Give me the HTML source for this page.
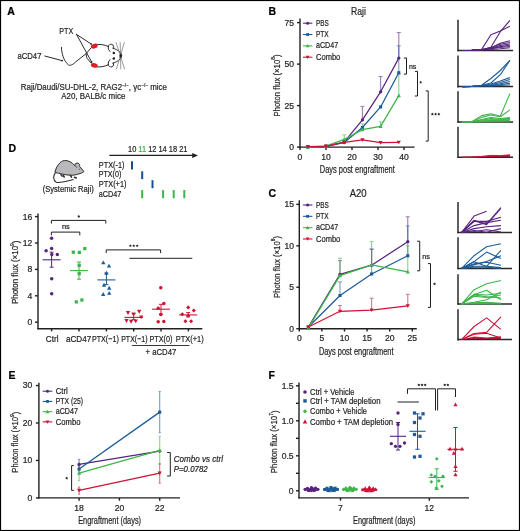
<!DOCTYPE html><html><head><meta charset="utf-8"><style>html,body{margin:0;padding:0;background:#fff;overflow:hidden;}svg{display:block;will-change:transform;font-family:"Liberation Sans",sans-serif;}</style></head><body><svg width="520" height="531" viewBox="0 0 520 531"><rect x="0.5" y="0.5" width="519" height="530" fill="none" stroke="#000" stroke-width="1.2"/><text x="7.3" y="15" font-size="10.5" text-anchor="start" fill="#000" stroke="#000" stroke-width="0.22" font-weight="bold" >A</text><text x="268.6" y="15.4" font-size="10.5" text-anchor="start" fill="#000" stroke="#000" stroke-width="0.22" font-weight="bold" >B</text><text x="268.6" y="197" font-size="10.5" text-anchor="start" fill="#000" stroke="#000" stroke-width="0.22" font-weight="bold" >C</text><text x="8.6" y="151.5" font-size="10.5" text-anchor="start" fill="#000" stroke="#000" stroke-width="0.22" font-weight="bold" >D</text><text x="8.6" y="378.8" font-size="10.5" text-anchor="start" fill="#000" stroke="#000" stroke-width="0.22" font-weight="bold" >E</text><text x="268.6" y="378.8" font-size="10.5" text-anchor="start" fill="#000" stroke="#000" stroke-width="0.22" font-weight="bold" >F</text><text x="59.2" y="33.9" font-size="9.43" text-anchor="start" fill="#231f20" stroke="#231f20" stroke-width="0.22" textLength="14" lengthAdjust="spacingAndGlyphs" >PTX</text><text x="17.5" y="58.6" font-size="9.27" text-anchor="start" fill="#231f20" stroke="#231f20" stroke-width="0.22" textLength="23.9" lengthAdjust="spacingAndGlyphs" >aCD47</text><text x="20.8" y="90" font-size="9.27" text-anchor="start" fill="#231f20" stroke="#231f20" stroke-width="0.22" textLength="146.1" lengthAdjust="spacingAndGlyphs" >Raji/Daudi/SU-DHL-2, RAG2<tspan font-size="5.5" dy="-3">−/−</tspan><tspan dy="3">, γc</tspan><tspan font-size="5.5" dy="-3">−/−</tspan><tspan dy="3"> mice</tspan></text><text x="61.2" y="98.8" font-size="9.27" text-anchor="start" fill="#231f20" stroke="#231f20" stroke-width="0.22" textLength="64.2" lengthAdjust="spacingAndGlyphs" >A20, BALB/c mice</text><g fill="none" stroke="#231f20" stroke-width="0.95" stroke-linecap="round"><line x1="76.5" y1="34.4" x2="91.2" y2="44.0"/><line x1="76.5" y1="34.4" x2="91.6" y2="61.9"/><line x1="44.8" y1="56" x2="62.0" y2="60.6"/><path d="M61.4 47.3 C61.6 53 63.5 61 68.6 65 C71 66 73.5 64 75.7 61.9 L86.3 53.5"/><path d="M91.2 47.7 L86.3 53.5 C86 55.5 86.5 57 87.2 58.4 L91.2 63.2"/><path d="M97.5 44.5 C101 44.2 105 45 108 46.3"/><path d="M97.5 66.9 C101 67.2 105 66.2 108 64.9"/><path d="M108.2 46.6 A2.8 2.8 0 1 1 113.4 48.4"/><path d="M108.2 46.6 Q107.6 49.6 109.9 51.5"/><path d="M108.2 64.6 A2.8 2.8 0 1 0 113.4 62.8"/><path d="M108.2 64.6 Q107.6 61.6 109.9 59.7"/><path d="M112.8 48.1 C115.5 49 118.5 50.5 119.8 52 C121.2 53.5 121.7 54.8 121.7 55.6 C121.7 56.5 121.2 58 119.8 59.4 C118.5 60.8 115.5 62.3 112.8 63.3"/></g><g stroke="#707070" stroke-width="0.7"><line x1="116.0" y1="42.2" x2="124.7" y2="69.4"/><line x1="124.4" y1="42.2" x2="116.3" y2="69.4"/><line x1="120.2" y1="42.2" x2="120.8" y2="69.4"/></g><circle cx="113.8" cy="52.9" r="1.25" fill="#231f20"/><circle cx="113.8" cy="58.6" r="1.25" fill="#231f20"/><ellipse cx="120.6" cy="55.8" rx="1.2" ry="1.9" fill="#231f20"/><ellipse cx="94.3" cy="46.1" rx="3.5" ry="2.25" transform="rotate(-20 94.3 46.1)" fill="#e31b23"/><ellipse cx="94.3" cy="65.4" rx="3.5" ry="2.25" transform="rotate(15 94.3 65.4)" fill="#e31b23"/><circle cx="91.2" cy="44.0" r="0.85" fill="#231f20"/><circle cx="91.6" cy="61.9" r="0.85" fill="#231f20"/><circle cx="62.0" cy="60.6" r="0.85" fill="#231f20"/><line x1="300" y1="18.6" x2="300" y2="147.7" stroke="#231f20" stroke-width="1.4"/><line x1="299.4" y1="147.1" x2="414.6" y2="147.1" stroke="#231f20" stroke-width="1.4"/><line x1="297" y1="147.1" x2="300" y2="147.1" stroke="#231f20" stroke-width="1.4"/><text x="294" y="150" font-size="8.57" text-anchor="end" fill="#231f20" stroke="#231f20" stroke-width="0.22">0</text><line x1="297" y1="105.6" x2="300" y2="105.6" stroke="#231f20" stroke-width="1.4"/><text x="294" y="108.5" font-size="8.57" text-anchor="end" fill="#231f20" stroke="#231f20" stroke-width="0.22">25</text><line x1="297" y1="64.1" x2="300" y2="64.1" stroke="#231f20" stroke-width="1.4"/><text x="294" y="67" font-size="8.57" text-anchor="end" fill="#231f20" stroke="#231f20" stroke-width="0.22">50</text><line x1="297" y1="22.6" x2="300" y2="22.6" stroke="#231f20" stroke-width="1.4"/><text x="294" y="25.5" font-size="8.57" text-anchor="end" fill="#231f20" stroke="#231f20" stroke-width="0.22">75</text><line x1="300" y1="147.1" x2="300" y2="150" stroke="#231f20" stroke-width="1.4"/><text x="300" y="159.8" font-size="8.57" text-anchor="middle" fill="#231f20" stroke="#231f20" stroke-width="0.22">0</text><line x1="326" y1="147.1" x2="326" y2="150" stroke="#231f20" stroke-width="1.4"/><text x="326" y="159.8" font-size="8.57" text-anchor="middle" fill="#231f20" stroke="#231f20" stroke-width="0.22">10</text><line x1="352" y1="147.1" x2="352" y2="150" stroke="#231f20" stroke-width="1.4"/><text x="352" y="159.8" font-size="8.57" text-anchor="middle" fill="#231f20" stroke="#231f20" stroke-width="0.22">20</text><line x1="378" y1="147.1" x2="378" y2="150" stroke="#231f20" stroke-width="1.4"/><text x="378" y="159.8" font-size="8.57" text-anchor="middle" fill="#231f20" stroke="#231f20" stroke-width="0.22">30</text><line x1="404" y1="147.1" x2="404" y2="150" stroke="#231f20" stroke-width="1.4"/><text x="404" y="159.8" font-size="8.57" text-anchor="middle" fill="#231f20" stroke="#231f20" stroke-width="0.22">40</text><text x="319.8" y="172.6" font-size="10.07" text-anchor="start" fill="#231f20" stroke="#231f20" stroke-width="0.22" textLength="75" lengthAdjust="spacingAndGlyphs" >Days post engraftment</text><text x="276" y="85.5" font-size="9.59" text-anchor="middle" fill="#231f20" stroke="#231f20" stroke-width="0.22" textLength="62" lengthAdjust="spacingAndGlyphs" transform="rotate(-90 276 85.5)" dominant-baseline="central">Photon flux (×10<tspan font-size="6" dy="-2.8">8</tspan><tspan dy="2.8">)</tspan></text><text x="351" y="14.9" font-size="10.23" text-anchor="start" fill="#231f20" stroke="#231f20" stroke-width="0.22" textLength="14.8" lengthAdjust="spacingAndGlyphs" >Raji</text><g opacity="0.6"><line x1="362.4" y1="119.88" x2="362.4" y2="106.43" stroke="#57257f" stroke-width="1.1"/><line x1="360.4" y1="106.43" x2="364.4" y2="106.43" stroke="#57257f" stroke-width="1"/></g><g opacity="0.6"><line x1="380.6" y1="91.82" x2="380.6" y2="76.55" stroke="#57257f" stroke-width="1.1"/><line x1="378.6" y1="76.55" x2="382.6" y2="76.55" stroke="#57257f" stroke-width="1"/></g><g opacity="0.6"><line x1="398.8" y1="58.12" x2="398.8" y2="32.56" stroke="#57257f" stroke-width="1.1"/><line x1="396.8" y1="32.56" x2="400.8" y2="32.56" stroke="#57257f" stroke-width="1"/></g><g opacity="0.6"><line x1="398.8" y1="72.73" x2="398.8" y2="45.84" stroke="#1c5b98" stroke-width="1.1"/><line x1="396.8" y1="45.84" x2="400.8" y2="45.84" stroke="#1c5b98" stroke-width="1"/></g><g opacity="0.6"><line x1="344.2" y1="139.46" x2="344.2" y2="134.82" stroke="#3db549" stroke-width="1.1"/><line x1="342.2" y1="134.82" x2="346.2" y2="134.82" stroke="#3db549" stroke-width="1"/></g><g opacity="0.6"><line x1="362.4" y1="129.67" x2="362.4" y2="123.86" stroke="#3db549" stroke-width="1.1"/><line x1="360.4" y1="123.86" x2="364.4" y2="123.86" stroke="#3db549" stroke-width="1"/></g><g opacity="0.6"><line x1="380.6" y1="126.35" x2="380.6" y2="121.87" stroke="#3db549" stroke-width="1.1"/><line x1="378.6" y1="121.87" x2="382.6" y2="121.87" stroke="#3db549" stroke-width="1"/></g><g opacity="0.6"><line x1="398.8" y1="95.64" x2="398.8" y2="74.06" stroke="#3db549" stroke-width="1.1"/><line x1="396.8" y1="74.06" x2="400.8" y2="74.06" stroke="#3db549" stroke-width="1"/></g><polyline points="307.8,146.77 326,146.27 344.2,142.12 362.4,119.88 380.6,91.82 398.8,58.12" fill="none" stroke="#57257f" stroke-width="1.25" stroke-linejoin="round"/><circle cx="307.8" cy="146.77" r="1.67" fill="#57257f"/><circle cx="326" cy="146.27" r="1.67" fill="#57257f"/><circle cx="344.2" cy="142.12" r="1.67" fill="#57257f"/><circle cx="362.4" cy="119.88" r="1.67" fill="#57257f"/><circle cx="380.6" cy="91.82" r="1.67" fill="#57257f"/><circle cx="398.8" cy="58.12" r="1.67" fill="#57257f"/><polyline points="307.8,146.77 326,146.44 344.2,142.45 362.4,127.51 380.6,106.93 398.8,72.73" fill="none" stroke="#1c5b98" stroke-width="1.25" stroke-linejoin="round"/><rect x="306.25" y="145.22" width="3.1" height="3.1" fill="#1c5b98"/><rect x="324.45" y="144.88" width="3.1" height="3.1" fill="#1c5b98"/><rect x="342.65" y="140.9" width="3.1" height="3.1" fill="#1c5b98"/><rect x="360.85" y="125.96" width="3.1" height="3.1" fill="#1c5b98"/><rect x="379.05" y="105.38" width="3.1" height="3.1" fill="#1c5b98"/><rect x="397.25" y="71.18" width="3.1" height="3.1" fill="#1c5b98"/><polyline points="307.8,147.1 326,146.1 344.2,139.46 362.4,129.67 380.6,126.35 398.8,95.64" fill="none" stroke="#3db549" stroke-width="1.25" stroke-linejoin="round"/><path d="M307.8 145.03L309.87 148.76L305.73 148.76Z" fill="#3db549"/><path d="M326 144.03L328.07 147.76L323.93 147.76Z" fill="#3db549"/><path d="M344.2 137.39L346.27 141.12L342.13 141.12Z" fill="#3db549"/><path d="M362.4 127.6L364.47 131.33L360.33 131.33Z" fill="#3db549"/><path d="M380.6 124.28L382.67 128.01L378.53 128.01Z" fill="#3db549"/><path d="M398.8 93.57L400.87 97.3L396.73 97.3Z" fill="#3db549"/><polyline points="307.8,146.6 326,146.1 344.2,142.45 362.4,139.8 380.6,142.62 398.8,142.29" fill="none" stroke="#cf1236" stroke-width="1.25" stroke-linejoin="round"/><path d="M307.8 148.67L309.87 144.95L305.73 144.95Z" fill="#cf1236"/><path d="M326 148.17L328.07 144.45L323.93 144.45Z" fill="#cf1236"/><path d="M344.2 144.52L346.27 140.8L342.13 140.8Z" fill="#cf1236"/><path d="M362.4 141.87L364.47 138.14L360.33 138.14Z" fill="#cf1236"/><path d="M380.6 144.69L382.67 140.96L378.53 140.96Z" fill="#cf1236"/><path d="M398.8 144.36L400.87 140.63L396.73 140.63Z" fill="#cf1236"/><line x1="303" y1="23.2" x2="312.4" y2="23.2" stroke="#57257f" stroke-width="1.1"/><circle cx="307.6" cy="23.2" r="1.5" fill="#57257f"/><text x="316" y="25.8" font-size="8.63" text-anchor="start" fill="#231f20" stroke="#231f20" stroke-width="0.22" textLength="12.75" lengthAdjust="spacingAndGlyphs" >PBS</text><line x1="303" y1="34.53" x2="312.4" y2="34.53" stroke="#1c5b98" stroke-width="1.1"/><rect x="306.2" y="33.13" width="2.79" height="2.79" fill="#1c5b98"/><text x="316" y="37.13" font-size="8.63" text-anchor="start" fill="#231f20" stroke="#231f20" stroke-width="0.22" textLength="12.75" lengthAdjust="spacingAndGlyphs" >PTX</text><line x1="303" y1="45.86" x2="312.4" y2="45.86" stroke="#3db549" stroke-width="1.1"/><path d="M307.6 44L309.46 47.35L305.74 47.35Z" fill="#3db549"/><text x="316" y="48.46" font-size="8.63" text-anchor="start" fill="#231f20" stroke="#231f20" stroke-width="0.22" textLength="22.1" lengthAdjust="spacingAndGlyphs" >aCD47</text><line x1="303" y1="57.19" x2="312.4" y2="57.19" stroke="#cf1236" stroke-width="1.1"/><path d="M307.6 59.05L309.46 55.7L305.74 55.7Z" fill="#cf1236"/><text x="316" y="59.79" font-size="8.63" text-anchor="start" fill="#231f20" stroke="#231f20" stroke-width="0.22" textLength="24.3" lengthAdjust="spacingAndGlyphs" >Combo</text><path d="M403.9 58H406.5V74.1H403.9" fill="none" stroke="#231f20" stroke-width="1"/><text x="408.9" y="68.6" font-size="6.9" text-anchor="start" fill="#231f20" stroke="#231f20" stroke-width="0.22" textLength="7.4" lengthAdjust="spacingAndGlyphs" >ns</text><path d="M414.9 71.4H417.5V96H414.9" fill="none" stroke="#231f20" stroke-width="1"/><path d="M420.7 80.7L421.17 81.65L422.22 81.81L421.46 82.55L421.64 83.59L420.7 83.1L419.76 83.59L419.94 82.55L419.18 81.81L420.23 81.65Z" fill="#231f20"/><path d="M425.6 90.9H428.2V141.1H425.6" fill="none" stroke="#231f20" stroke-width="1"/><path d="M432.35 112.6L432.82 113.55L433.87 113.71L433.11 114.45L433.29 115.49L432.35 115L431.41 115.49L431.59 114.45L430.83 113.71L431.88 113.55Z" fill="#231f20"/><path d="M435.6 112.6L436.07 113.55L437.12 113.71L436.36 114.45L436.54 115.49L435.6 115L434.66 115.49L434.84 114.45L434.08 113.71L435.13 113.55Z" fill="#231f20"/><path d="M438.85 112.6L439.32 113.55L440.37 113.71L439.61 114.45L439.79 115.49L438.85 115L437.91 115.49L438.09 114.45L437.33 113.71L438.38 113.55Z" fill="#231f20"/><line x1="299.3" y1="200.2" x2="299.3" y2="329.3" stroke="#231f20" stroke-width="1.4"/><line x1="298.7" y1="328.7" x2="416.8" y2="328.7" stroke="#231f20" stroke-width="1.4"/><line x1="296.3" y1="328.7" x2="299.3" y2="328.7" stroke="#231f20" stroke-width="1.4"/><text x="294" y="331.6" font-size="8.57" text-anchor="end" fill="#231f20" stroke="#231f20" stroke-width="0.22">0</text><line x1="296.3" y1="287.25" x2="299.3" y2="287.25" stroke="#231f20" stroke-width="1.4"/><text x="294" y="290.15" font-size="8.57" text-anchor="end" fill="#231f20" stroke="#231f20" stroke-width="0.22">5</text><line x1="296.3" y1="245.8" x2="299.3" y2="245.8" stroke="#231f20" stroke-width="1.4"/><text x="294" y="248.7" font-size="8.57" text-anchor="end" fill="#231f20" stroke="#231f20" stroke-width="0.22">10</text><line x1="296.3" y1="204.35" x2="299.3" y2="204.35" stroke="#231f20" stroke-width="1.4"/><text x="294" y="207.25" font-size="8.57" text-anchor="end" fill="#231f20" stroke="#231f20" stroke-width="0.22">15</text><line x1="299.3" y1="328.7" x2="299.3" y2="331.6" stroke="#231f20" stroke-width="1.4"/><text x="299.3" y="341.3" font-size="8.57" text-anchor="middle" fill="#231f20" stroke="#231f20" stroke-width="0.22">0</text><line x1="321.9" y1="328.7" x2="321.9" y2="331.6" stroke="#231f20" stroke-width="1.4"/><text x="321.9" y="341.3" font-size="8.57" text-anchor="middle" fill="#231f20" stroke="#231f20" stroke-width="0.22">5</text><line x1="344.5" y1="328.7" x2="344.5" y2="331.6" stroke="#231f20" stroke-width="1.4"/><text x="344.5" y="341.3" font-size="8.57" text-anchor="middle" fill="#231f20" stroke="#231f20" stroke-width="0.22">10</text><line x1="367.1" y1="328.7" x2="367.1" y2="331.6" stroke="#231f20" stroke-width="1.4"/><text x="367.1" y="341.3" font-size="8.57" text-anchor="middle" fill="#231f20" stroke="#231f20" stroke-width="0.22">15</text><line x1="389.7" y1="328.7" x2="389.7" y2="331.6" stroke="#231f20" stroke-width="1.4"/><text x="389.7" y="341.3" font-size="8.57" text-anchor="middle" fill="#231f20" stroke="#231f20" stroke-width="0.22">20</text><line x1="412.3" y1="328.7" x2="412.3" y2="331.6" stroke="#231f20" stroke-width="1.4"/><text x="412.3" y="341.3" font-size="8.57" text-anchor="middle" fill="#231f20" stroke="#231f20" stroke-width="0.22">25</text><text x="318.9" y="355" font-size="10.07" text-anchor="start" fill="#231f20" stroke="#231f20" stroke-width="0.22" textLength="74.6" lengthAdjust="spacingAndGlyphs" >Days post engraftment</text><text x="276" y="267" font-size="9.59" text-anchor="middle" fill="#231f20" stroke="#231f20" stroke-width="0.22" textLength="62" lengthAdjust="spacingAndGlyphs" transform="rotate(-90 276 267)" dominant-baseline="central">Photon flux (×10<tspan font-size="6" dy="-2.8">8</tspan><tspan dy="2.8">)</tspan></text><text x="349.7" y="196.8" font-size="10.55" text-anchor="start" fill="#231f20" stroke="#231f20" stroke-width="0.22" textLength="17" lengthAdjust="spacingAndGlyphs" >A20</text><g opacity="0.6"><line x1="339.98" y1="274.4" x2="339.98" y2="260.72" stroke="#57257f" stroke-width="1.1"/><line x1="337.98" y1="260.72" x2="341.98" y2="260.72" stroke="#57257f" stroke-width="1"/></g><g opacity="0.6"><line x1="371.62" y1="265.2" x2="371.62" y2="249.12" stroke="#57257f" stroke-width="1.1"/><line x1="369.62" y1="249.12" x2="373.62" y2="249.12" stroke="#57257f" stroke-width="1"/></g><g opacity="0.6"><line x1="407.78" y1="241.66" x2="407.78" y2="216.78" stroke="#57257f" stroke-width="1.1"/><line x1="405.78" y1="216.78" x2="409.78" y2="216.78" stroke="#57257f" stroke-width="1"/></g><g opacity="0.6"><line x1="339.98" y1="295.54" x2="339.98" y2="281.86" stroke="#1c5b98" stroke-width="1.1"/><line x1="337.98" y1="281.86" x2="341.98" y2="281.86" stroke="#1c5b98" stroke-width="1"/></g><g opacity="0.6"><line x1="371.62" y1="273.99" x2="371.62" y2="249.12" stroke="#1c5b98" stroke-width="1.1"/><line x1="369.62" y1="249.12" x2="373.62" y2="249.12" stroke="#1c5b98" stroke-width="1"/></g><g opacity="0.6"><line x1="407.78" y1="255.75" x2="407.78" y2="225.9" stroke="#1c5b98" stroke-width="1.1"/><line x1="405.78" y1="225.9" x2="409.78" y2="225.9" stroke="#1c5b98" stroke-width="1"/></g><g opacity="0.6"><line x1="339.98" y1="275.64" x2="339.98" y2="258.24" stroke="#3db549" stroke-width="1.1"/><line x1="337.98" y1="258.24" x2="341.98" y2="258.24" stroke="#3db549" stroke-width="1"/></g><g opacity="0.6"><line x1="371.62" y1="264.87" x2="371.62" y2="241.66" stroke="#3db549" stroke-width="1.1"/><line x1="369.62" y1="241.66" x2="373.62" y2="241.66" stroke="#3db549" stroke-width="1"/></g><g opacity="0.6"><line x1="407.78" y1="271.91" x2="407.78" y2="245.8" stroke="#3db549" stroke-width="1.1"/><line x1="405.78" y1="245.8" x2="409.78" y2="245.8" stroke="#3db549" stroke-width="1"/></g><g opacity="0.6"><line x1="339.98" y1="311.29" x2="339.98" y2="305.49" stroke="#cf1236" stroke-width="1.1"/><line x1="337.98" y1="305.49" x2="341.98" y2="305.49" stroke="#cf1236" stroke-width="1"/></g><g opacity="0.6"><line x1="371.62" y1="310.05" x2="371.62" y2="298.28" stroke="#cf1236" stroke-width="1.1"/><line x1="369.62" y1="298.28" x2="373.62" y2="298.28" stroke="#cf1236" stroke-width="1"/></g><g opacity="0.6"><line x1="407.78" y1="305.82" x2="407.78" y2="294.3" stroke="#cf1236" stroke-width="1.1"/><line x1="405.78" y1="294.3" x2="409.78" y2="294.3" stroke="#cf1236" stroke-width="1"/></g><polyline points="308.34,327.04 339.98,274.4 371.62,265.2 407.78,241.66" fill="none" stroke="#57257f" stroke-width="1.25" stroke-linejoin="round"/><circle cx="308.34" cy="327.04" r="1.67" fill="#57257f"/><circle cx="339.98" cy="274.4" r="1.67" fill="#57257f"/><circle cx="371.62" cy="265.2" r="1.67" fill="#57257f"/><circle cx="407.78" cy="241.66" r="1.67" fill="#57257f"/><polyline points="308.34,327.04 339.98,295.54 371.62,273.99 407.78,255.75" fill="none" stroke="#1c5b98" stroke-width="1.25" stroke-linejoin="round"/><rect x="306.79" y="325.49" width="3.1" height="3.1" fill="#1c5b98"/><rect x="338.43" y="293.99" width="3.1" height="3.1" fill="#1c5b98"/><rect x="370.07" y="272.43" width="3.1" height="3.1" fill="#1c5b98"/><rect x="406.23" y="254.2" width="3.1" height="3.1" fill="#1c5b98"/><polyline points="308.34,327.87 339.98,275.64 371.62,264.87 407.78,271.91" fill="none" stroke="#3db549" stroke-width="1.25" stroke-linejoin="round"/><path d="M308.34 325.8L310.41 329.53L306.27 329.53Z" fill="#3db549"/><path d="M339.98 273.57L342.05 277.3L337.91 277.3Z" fill="#3db549"/><path d="M371.62 262.8L373.69 266.52L369.55 266.52Z" fill="#3db549"/><path d="M407.78 269.84L409.85 273.57L405.71 273.57Z" fill="#3db549"/><polyline points="308.34,327.04 339.98,311.29 371.62,310.05 407.78,305.82" fill="none" stroke="#cf1236" stroke-width="1.25" stroke-linejoin="round"/><path d="M308.34 329.11L310.41 325.39L306.27 325.39Z" fill="#cf1236"/><path d="M339.98 313.36L342.05 309.63L337.91 309.63Z" fill="#cf1236"/><path d="M371.62 312.12L373.69 308.39L369.55 308.39Z" fill="#cf1236"/><path d="M407.78 307.89L409.85 304.16L405.71 304.16Z" fill="#cf1236"/><line x1="303" y1="205" x2="312.4" y2="205" stroke="#57257f" stroke-width="1.1"/><circle cx="307.6" cy="205" r="1.5" fill="#57257f"/><text x="316" y="207.6" font-size="8.63" text-anchor="start" fill="#231f20" stroke="#231f20" stroke-width="0.22" textLength="12.75" lengthAdjust="spacingAndGlyphs" >PBS</text><line x1="303" y1="216.33" x2="312.4" y2="216.33" stroke="#1c5b98" stroke-width="1.1"/><rect x="306.2" y="214.93" width="2.79" height="2.79" fill="#1c5b98"/><text x="316" y="218.93" font-size="8.63" text-anchor="start" fill="#231f20" stroke="#231f20" stroke-width="0.22" textLength="12.75" lengthAdjust="spacingAndGlyphs" >PTX</text><line x1="303" y1="227.66" x2="312.4" y2="227.66" stroke="#3db549" stroke-width="1.1"/><path d="M307.6 225.8L309.46 229.15L305.74 229.15Z" fill="#3db549"/><text x="316" y="230.26" font-size="8.63" text-anchor="start" fill="#231f20" stroke="#231f20" stroke-width="0.22" textLength="22.1" lengthAdjust="spacingAndGlyphs" >aCD47</text><line x1="303" y1="238.99" x2="312.4" y2="238.99" stroke="#cf1236" stroke-width="1.1"/><path d="M307.6 240.85L309.46 237.5L305.74 237.5Z" fill="#cf1236"/><text x="316" y="241.59" font-size="8.63" text-anchor="start" fill="#231f20" stroke="#231f20" stroke-width="0.22" textLength="24.3" lengthAdjust="spacingAndGlyphs" >Combo</text><path d="M417.1 241.2H419.7V270.8H417.1" fill="none" stroke="#231f20" stroke-width="1"/><text x="422.3" y="258.6" font-size="6.9" text-anchor="start" fill="#231f20" stroke="#231f20" stroke-width="0.22" textLength="7.7" lengthAdjust="spacingAndGlyphs" >ns</text><path d="M427.9 263.6H430.5V307.4H427.9" fill="none" stroke="#231f20" stroke-width="1"/><path d="M434.5 282.3L434.97 283.25L436.02 283.41L435.26 284.15L435.44 285.19L434.5 284.7L433.56 285.19L433.74 284.15L432.98 283.41L434.03 283.25Z" fill="#231f20"/><text x="128" y="151.5" font-size="8.47" text-anchor="start" fill="#231f20" stroke="#231f20" stroke-width="0.22" textLength="59.4" lengthAdjust="spacingAndGlyphs" >10 <tspan fill="#3db549" stroke="#3db549">11</tspan> 12 14 18 21</text><line x1="109.4" y1="155.4" x2="193.5" y2="155.4" stroke="#231f20" stroke-width="1.2"/><path d="M192.2 152.9L198 155.4L192.2 157.9Z" fill="#231f20"/><text x="98.8" y="168.2" font-size="8.95" text-anchor="start" fill="#231f20" stroke="#231f20" stroke-width="0.22" textLength="25.6" lengthAdjust="spacingAndGlyphs" >PTX(-1)</text><text x="98.8" y="177.3" font-size="8.95" text-anchor="start" fill="#231f20" stroke="#231f20" stroke-width="0.22" textLength="22.5" lengthAdjust="spacingAndGlyphs" >PTX(0)</text><text x="98.8" y="187.2" font-size="8.95" text-anchor="start" fill="#231f20" stroke="#231f20" stroke-width="0.22" textLength="27.7" lengthAdjust="spacingAndGlyphs" >PTX(+1)</text><text x="98.8" y="196.8" font-size="8.95" text-anchor="start" fill="#231f20" stroke="#231f20" stroke-width="0.22" textLength="22.5" lengthAdjust="spacingAndGlyphs" >aCD47</text><line x1="132" y1="161.2" x2="132" y2="169.6" stroke="#1a4f8e" stroke-width="2.0"/><line x1="142.2" y1="171.3" x2="142.2" y2="179.1" stroke="#1a4f8e" stroke-width="2.0"/><line x1="152.5" y1="180.2" x2="152.5" y2="188.2" stroke="#1a4f8e" stroke-width="2.0"/><line x1="142.2" y1="190.1" x2="142.2" y2="198.2" stroke="#3db549" stroke-width="2.0"/><line x1="163.1" y1="190.1" x2="163.1" y2="198.2" stroke="#3db549" stroke-width="2.0"/><line x1="173.7" y1="190.1" x2="173.7" y2="198.2" stroke="#3db549" stroke-width="2.0"/><line x1="184.3" y1="190.1" x2="184.3" y2="198.2" stroke="#3db549" stroke-width="2.0"/><path d="M54.9 172.3 C56.5 166 60 161 64.5 160.5 C68.5 160.2 72 162.5 74.6 165.4 C74.8 163.6 76.6 162.6 78.2 163.2 C79.6 163.8 79.9 165.3 79.6 166.6 C81 168.2 82.8 170 83.9 171.5 C82.5 172.8 80.5 173.6 78.8 173.9 C76 174.9 73.5 175.3 71 175.2 C67 175.1 63 174.4 60.3 173.5 C58 173.2 56 172.8 54.9 172.3Z" fill="#b8b8bd" stroke="#2b2b2b" stroke-width="1.0"/><path d="M74.4 165.2 C75.5 165.6 76.5 166.6 77.0 167.8" fill="none" stroke="#2b2b2b" stroke-width="0.7"/><path d="M55.4 172.8 C53.2 175.5 52.6 180 56.3 182.2 C59.5 183.6 65 181.6 73.5 179.6" fill="none" stroke="#2b2b2b" stroke-width="1.05"/><g stroke="#2b2b2b" stroke-width="1.5" stroke-linecap="round"><line x1="60.9" y1="174.6" x2="62.0" y2="176.2"/><line x1="63.3" y1="175.5" x2="64.2" y2="177.0"/><line x1="70.5" y1="175.6" x2="71.5" y2="177.1"/><line x1="74.5" y1="177.2" x2="76.3" y2="178.0"/></g><circle cx="79.6" cy="169.3" r="0.5" fill="#333"/><text x="42.7" y="191.7" font-size="8.95" text-anchor="start" fill="#231f20" stroke="#231f20" stroke-width="0.22" textLength="51" lengthAdjust="spacingAndGlyphs" >(Systemic Raji)</text><line x1="38" y1="213.6" x2="38" y2="329.3" stroke="#231f20" stroke-width="1.4"/><line x1="37.4" y1="328.7" x2="202.3" y2="328.7" stroke="#231f20" stroke-width="1.4"/><line x1="35" y1="322.2" x2="38" y2="322.2" stroke="#231f20" stroke-width="1.4"/><text x="32.2" y="325.1" font-size="8.57" text-anchor="end" fill="#231f20" stroke="#231f20" stroke-width="0.22">0</text><line x1="35" y1="295.8" x2="38" y2="295.8" stroke="#231f20" stroke-width="1.4"/><text x="32.2" y="298.7" font-size="8.57" text-anchor="end" fill="#231f20" stroke="#231f20" stroke-width="0.22">4</text><line x1="35" y1="269.4" x2="38" y2="269.4" stroke="#231f20" stroke-width="1.4"/><text x="32.2" y="272.3" font-size="8.57" text-anchor="end" fill="#231f20" stroke="#231f20" stroke-width="0.22">8</text><line x1="35" y1="243" x2="38" y2="243" stroke="#231f20" stroke-width="1.4"/><text x="32.2" y="245.9" font-size="8.57" text-anchor="end" fill="#231f20" stroke="#231f20" stroke-width="0.22">12</text><line x1="35" y1="216.6" x2="38" y2="216.6" stroke="#231f20" stroke-width="1.4"/><text x="32.2" y="219.5" font-size="8.57" text-anchor="end" fill="#231f20" stroke="#231f20" stroke-width="0.22">16</text><line x1="51.6" y1="328.7" x2="51.6" y2="331.4" stroke="#231f20" stroke-width="1.4"/><line x1="79" y1="328.7" x2="79" y2="331.4" stroke="#231f20" stroke-width="1.4"/><line x1="106.4" y1="328.7" x2="106.4" y2="331.4" stroke="#231f20" stroke-width="1.4"/><line x1="133.7" y1="328.7" x2="133.7" y2="331.4" stroke="#231f20" stroke-width="1.4"/><line x1="161" y1="328.7" x2="161" y2="331.4" stroke="#231f20" stroke-width="1.4"/><line x1="188.4" y1="328.7" x2="188.4" y2="331.4" stroke="#231f20" stroke-width="1.4"/><text x="15" y="272.3" font-size="9.59" text-anchor="middle" fill="#231f20" stroke="#231f20" stroke-width="0.22" textLength="63.6" lengthAdjust="spacingAndGlyphs" transform="rotate(-90 15 272.3)" dominant-baseline="central">Photon flux (×10<tspan font-size="6" dy="-2.8">9</tspan><tspan dy="2.8">)</tspan></text><text x="45.8" y="341.5" font-size="9.27" text-anchor="start" fill="#231f20" stroke="#231f20" stroke-width="0.22" textLength="12.7" lengthAdjust="spacingAndGlyphs" >Ctrl</text><text x="66" y="341.5" font-size="9.27" text-anchor="start" fill="#231f20" stroke="#231f20" stroke-width="0.22" textLength="25.2" lengthAdjust="spacingAndGlyphs" >aCD47</text><text x="91.9" y="341.5" font-size="9.27" text-anchor="start" fill="#231f20" stroke="#231f20" stroke-width="0.22" textLength="26.9" lengthAdjust="spacingAndGlyphs" >PTX(−1)</text><text x="121.2" y="341.5" font-size="9.27" text-anchor="start" fill="#231f20" stroke="#231f20" stroke-width="0.22" textLength="26.3" lengthAdjust="spacingAndGlyphs" >PTX(−1)</text><text x="149.4" y="341.5" font-size="9.27" text-anchor="start" fill="#231f20" stroke="#231f20" stroke-width="0.22" textLength="23.1" lengthAdjust="spacingAndGlyphs" >PTX(0)</text><text x="175.8" y="341.5" font-size="9.27" text-anchor="start" fill="#231f20" stroke="#231f20" stroke-width="0.22" textLength="27.9" lengthAdjust="spacingAndGlyphs" >PTX(+1)</text><line x1="132.1" y1="345.5" x2="189.4" y2="345.5" stroke="#231f20" stroke-width="0.9"/><text x="145.6" y="354.6" font-size="9.27" text-anchor="start" fill="#231f20" stroke="#231f20" stroke-width="0.22" textLength="30.7" lengthAdjust="spacingAndGlyphs" >+ aCD47</text><circle cx="51.6" cy="238.2" r="1.75" fill="#57257f"/><circle cx="46.1" cy="250.7" r="1.75" fill="#57257f"/><circle cx="51.6" cy="248.6" r="1.75" fill="#57257f"/><circle cx="51.8" cy="254.6" r="1.75" fill="#57257f"/><circle cx="57.3" cy="254.6" r="1.75" fill="#57257f"/><circle cx="51.7" cy="278.7" r="1.75" fill="#57257f"/><circle cx="51.7" cy="293.7" r="1.75" fill="#57257f"/><line x1="42.6" y1="259.8" x2="60.6" y2="259.8" stroke="#57257f" stroke-width="1.1"/><line x1="51.6" y1="252.2" x2="51.6" y2="267.2" stroke="#57257f" stroke-width="1.0"/><line x1="49.6" y1="252.2" x2="53.6" y2="252.2" stroke="#57257f" stroke-width="1"/><line x1="49.6" y1="267.2" x2="53.6" y2="267.2" stroke="#57257f" stroke-width="1"/><rect x="71.67" y="250.57" width="3.26" height="3.26" fill="#3db549"/><rect x="77.67" y="250.77" width="3.26" height="3.26" fill="#3db549"/><rect x="83.17" y="246.97" width="3.26" height="3.26" fill="#3db549"/><rect x="77.57" y="263.77" width="3.26" height="3.26" fill="#3db549"/><rect x="77.57" y="271.97" width="3.26" height="3.26" fill="#3db549"/><rect x="74.67" y="300.27" width="3.26" height="3.26" fill="#3db549"/><rect x="80.27" y="298.37" width="3.26" height="3.26" fill="#3db549"/><line x1="70" y1="270.6" x2="88" y2="270.6" stroke="#3db549" stroke-width="1.1"/><line x1="79" y1="262.1" x2="79" y2="279.2" stroke="#3db549" stroke-width="1.0"/><line x1="77" y1="262.1" x2="81" y2="262.1" stroke="#3db549" stroke-width="1"/><line x1="77" y1="279.2" x2="81" y2="279.2" stroke="#3db549" stroke-width="1"/><path d="M103.3 260.43L105.47 264.34L101.13 264.34Z" fill="#1c5b98"/><path d="M109 263.63L111.17 267.54L106.83 267.54Z" fill="#1c5b98"/><path d="M106.4 270.83L108.57 274.74L104.23 274.74Z" fill="#1c5b98"/><path d="M104 282.83L106.17 286.74L101.83 286.74Z" fill="#1c5b98"/><path d="M109.2 285.73L111.37 289.64L107.03 289.64Z" fill="#1c5b98"/><path d="M103.2 292.03L105.37 295.94L101.03 295.94Z" fill="#1c5b98"/><path d="M109.2 290.93L111.37 294.84L107.03 294.84Z" fill="#1c5b98"/><line x1="97.4" y1="279.9" x2="115.4" y2="279.9" stroke="#1c5b98" stroke-width="1.1"/><line x1="106.4" y1="273" x2="106.4" y2="284.6" stroke="#1c5b98" stroke-width="1.0"/><line x1="104.4" y1="273" x2="108.4" y2="273" stroke="#1c5b98" stroke-width="1"/><line x1="104.4" y1="284.6" x2="108.4" y2="284.6" stroke="#1c5b98" stroke-width="1"/><path d="M128 314.97L130.17 311.06L125.83 311.06Z" fill="#cf1236"/><path d="M133.5 316.37L135.67 312.46L131.33 312.46Z" fill="#cf1236"/><path d="M139.2 313.67L141.37 309.76L137.03 309.76Z" fill="#cf1236"/><path d="M141.2 319.37L143.37 315.46L139.03 315.46Z" fill="#cf1236"/><path d="M126.5 322.97L128.67 319.06L124.33 319.06Z" fill="#cf1236"/><path d="M131.1 323.67L133.27 319.76L128.93 319.76Z" fill="#cf1236"/><path d="M135.7 323.37L137.87 319.46L133.53 319.46Z" fill="#cf1236"/><line x1="124.4" y1="317.4" x2="143" y2="317.4" stroke="#cf1236" stroke-width="1.1"/><line x1="133.7" y1="313.8" x2="133.7" y2="319.7" stroke="#cf1236" stroke-width="1.0"/><line x1="131.7" y1="313.8" x2="135.7" y2="313.8" stroke="#cf1236" stroke-width="1"/><line x1="131.7" y1="319.7" x2="135.7" y2="319.7" stroke="#cf1236" stroke-width="1"/><circle cx="160.8" cy="287.7" r="1.75" fill="#cf1236"/><circle cx="163.8" cy="303.4" r="1.75" fill="#cf1236"/><circle cx="158.2" cy="308.2" r="1.75" fill="#cf1236"/><circle cx="160.8" cy="314.6" r="1.75" fill="#cf1236"/><circle cx="158.2" cy="321.8" r="1.75" fill="#cf1236"/><circle cx="163.8" cy="321.5" r="1.75" fill="#cf1236"/><line x1="152" y1="309.2" x2="170" y2="309.2" stroke="#cf1236" stroke-width="1.1"/><line x1="161" y1="304.3" x2="161" y2="314.2" stroke="#cf1236" stroke-width="1.0"/><line x1="159" y1="304.3" x2="163" y2="304.3" stroke="#cf1236" stroke-width="1"/><line x1="159" y1="314.2" x2="163" y2="314.2" stroke="#cf1236" stroke-width="1"/><path d="M188.2 305.35L190.25 307.4L188.2 309.45L186.15 307.4Z" fill="#cf1236"/><path d="M193.8 308.45L195.85 310.5L193.8 312.55L191.75 310.5Z" fill="#cf1236"/><path d="M182.3 312.15L184.35 314.2L182.3 316.25L180.25 314.2Z" fill="#cf1236"/><path d="M188.2 313.65L190.25 315.7L188.2 317.75L186.15 315.7Z" fill="#cf1236"/><path d="M185.4 319.15L187.45 321.2L185.4 323.25L183.35 321.2Z" fill="#cf1236"/><path d="M191.1 319.15L193.15 321.2L191.1 323.25L189.05 321.2Z" fill="#cf1236"/><line x1="179.2" y1="314.9" x2="197.2" y2="314.9" stroke="#cf1236" stroke-width="1.1"/><line x1="188.2" y1="312.6" x2="188.2" y2="316.9" stroke="#cf1236" stroke-width="1.0"/><line x1="186.2" y1="312.6" x2="190.2" y2="312.6" stroke="#cf1236" stroke-width="1"/><line x1="186.2" y1="316.9" x2="190.2" y2="316.9" stroke="#cf1236" stroke-width="1"/><path d="M51.4 223.6V220.4H105.8V223.6" fill="none" stroke="#231f20" stroke-width="1"/><path d="M78.8 214.8L79.27 215.75L80.32 215.91L79.56 216.65L79.74 217.69L78.8 217.2L77.86 217.69L78.04 216.65L77.28 215.91L78.33 215.75Z" fill="#231f20"/><path d="M51.4 235.3V232.1H79.8V235.3" fill="none" stroke="#231f20" stroke-width="1"/><text x="62" y="229.4" font-size="6.9" text-anchor="start" fill="#231f20" stroke="#231f20" stroke-width="0.22" textLength="7.8" lengthAdjust="spacingAndGlyphs" >ns</text><path d="M106.2 253.1V249.9H160.6V253.1" fill="none" stroke="#231f20" stroke-width="1"/><path d="M130.4 244.2L130.87 245.15L131.92 245.31L131.16 246.05L131.34 247.09L130.4 246.6L129.46 247.09L129.64 246.05L128.88 245.31L129.93 245.15Z" fill="#231f20"/><path d="M133.8 244.2L134.27 245.15L135.32 245.31L134.56 246.05L134.74 247.09L133.8 246.6L132.86 247.09L133.04 246.05L132.28 245.31L133.33 245.15Z" fill="#231f20"/><path d="M137.2 244.2L137.67 245.15L138.72 245.31L137.96 246.05L138.14 247.09L137.2 246.6L136.26 247.09L136.44 246.05L135.68 245.31L136.73 245.15Z" fill="#231f20"/><line x1="129.4" y1="258.3" x2="192.3" y2="258.3" stroke="#231f20" stroke-width="1.0"/><line x1="38.9" y1="382.7" x2="38.9" y2="498.5" stroke="#231f20" stroke-width="1.4"/><line x1="38.3" y1="497.9" x2="180" y2="497.9" stroke="#231f20" stroke-width="1.4"/><line x1="35.9" y1="497.9" x2="38.9" y2="497.9" stroke="#231f20" stroke-width="1.4"/><text x="32.2" y="500.8" font-size="8.57" text-anchor="end" fill="#231f20" stroke="#231f20" stroke-width="0.22">0</text><line x1="35.9" y1="460.45" x2="38.9" y2="460.45" stroke="#231f20" stroke-width="1.4"/><text x="32.2" y="463.35" font-size="8.57" text-anchor="end" fill="#231f20" stroke="#231f20" stroke-width="0.22">10</text><line x1="35.9" y1="423" x2="38.9" y2="423" stroke="#231f20" stroke-width="1.4"/><text x="32.2" y="425.9" font-size="8.57" text-anchor="end" fill="#231f20" stroke="#231f20" stroke-width="0.22">20</text><line x1="35.9" y1="385.55" x2="38.9" y2="385.55" stroke="#231f20" stroke-width="1.4"/><text x="32.2" y="388.45" font-size="8.57" text-anchor="end" fill="#231f20" stroke="#231f20" stroke-width="0.22">30</text><line x1="79.1" y1="497.9" x2="79.1" y2="500.7" stroke="#231f20" stroke-width="1.4"/><text x="79.1" y="510.8" font-size="8.57" text-anchor="middle" fill="#231f20" stroke="#231f20" stroke-width="0.22">18</text><line x1="119.4" y1="497.9" x2="119.4" y2="500.7" stroke="#231f20" stroke-width="1.4"/><text x="119.4" y="510.8" font-size="8.57" text-anchor="middle" fill="#231f20" stroke="#231f20" stroke-width="0.22">20</text><line x1="159.7" y1="497.9" x2="159.7" y2="500.7" stroke="#231f20" stroke-width="1.4"/><text x="159.7" y="510.8" font-size="8.57" text-anchor="middle" fill="#231f20" stroke="#231f20" stroke-width="0.22">22</text><text x="78.2" y="523.8" font-size="10.23" text-anchor="start" fill="#231f20" stroke="#231f20" stroke-width="0.22" textLength="62.9" lengthAdjust="spacingAndGlyphs" >Engraftment (days)</text><text x="15" y="442.2" font-size="9.59" text-anchor="middle" fill="#231f20" stroke="#231f20" stroke-width="0.22" textLength="61" lengthAdjust="spacingAndGlyphs" transform="rotate(-90 15 442.2)" dominant-baseline="central">Photon flux (×10<tspan font-size="6" dy="-2.8">9</tspan><tspan dy="2.8">)</tspan></text><g opacity="0.6"><line x1="79.1" y1="459.33" x2="79.1" y2="469.44" stroke="#57257f" stroke-width="1.1"/><line x1="78" y1="459.33" x2="80.2" y2="459.33" stroke="#57257f" stroke-width="1"/><line x1="78" y1="469.44" x2="80.2" y2="469.44" stroke="#57257f" stroke-width="1"/></g><g opacity="0.6"><line x1="79.1" y1="464.57" x2="79.1" y2="473.56" stroke="#1c5b98" stroke-width="1.1"/><line x1="78" y1="464.57" x2="80.2" y2="464.57" stroke="#1c5b98" stroke-width="1"/><line x1="78" y1="473.56" x2="80.2" y2="473.56" stroke="#1c5b98" stroke-width="1"/></g><g opacity="0.6"><line x1="159.7" y1="391.54" x2="159.7" y2="432.74" stroke="#1c5b98" stroke-width="1.1"/><line x1="158.6" y1="391.54" x2="160.8" y2="391.54" stroke="#1c5b98" stroke-width="1"/><line x1="158.6" y1="432.74" x2="160.8" y2="432.74" stroke="#1c5b98" stroke-width="1"/></g><g opacity="0.6"><line x1="79.1" y1="465.69" x2="79.1" y2="480.67" stroke="#3db549" stroke-width="1.1"/><line x1="78" y1="465.69" x2="80.2" y2="465.69" stroke="#3db549" stroke-width="1"/><line x1="78" y1="480.67" x2="80.2" y2="480.67" stroke="#3db549" stroke-width="1"/></g><g opacity="0.6"><line x1="159.7" y1="436.48" x2="159.7" y2="464.19" stroke="#3db549" stroke-width="1.1"/><line x1="158.6" y1="436.48" x2="160.8" y2="436.48" stroke="#3db549" stroke-width="1"/><line x1="158.6" y1="464.19" x2="160.8" y2="464.19" stroke="#3db549" stroke-width="1"/></g><g opacity="0.6"><line x1="79.1" y1="487.04" x2="79.1" y2="494.15" stroke="#cf1236" stroke-width="1.1"/><line x1="78" y1="487.04" x2="80.2" y2="487.04" stroke="#cf1236" stroke-width="1"/><line x1="78" y1="494.15" x2="80.2" y2="494.15" stroke="#cf1236" stroke-width="1"/></g><g opacity="0.6"><line x1="159.7" y1="463.82" x2="159.7" y2="483.29" stroke="#cf1236" stroke-width="1.1"/><line x1="158.6" y1="463.82" x2="160.8" y2="463.82" stroke="#cf1236" stroke-width="1"/><line x1="158.6" y1="483.29" x2="160.8" y2="483.29" stroke="#cf1236" stroke-width="1"/></g><polyline points="79.1,464.38 159.7,451.09" fill="none" stroke="#57257f" stroke-width="1.3" stroke-linejoin="round"/><circle cx="79.1" cy="464.38" r="1.67" fill="#57257f"/><circle cx="159.7" cy="451.09" r="1.67" fill="#57257f"/><polyline points="79.1,469.06 159.7,412.14" fill="none" stroke="#1c5b98" stroke-width="1.3" stroke-linejoin="round"/><rect x="77.55" y="467.51" width="3.1" height="3.1" fill="#1c5b98"/><rect x="158.15" y="410.59" width="3.1" height="3.1" fill="#1c5b98"/><polyline points="79.1,473.18 159.7,450.34" fill="none" stroke="#3db549" stroke-width="1.3" stroke-linejoin="round"/><path d="M79.1 471.11L81.17 474.84L77.03 474.84Z" fill="#3db549"/><path d="M159.7 448.27L161.77 451.99L157.63 451.99Z" fill="#3db549"/><polyline points="79.1,490.41 159.7,473.18" fill="none" stroke="#cf1236" stroke-width="1.3" stroke-linejoin="round"/><path d="M79.1 492.48L81.17 488.75L77.03 488.75Z" fill="#cf1236"/><path d="M159.7 475.25L161.77 471.53L157.63 471.53Z" fill="#cf1236"/><line x1="42.7" y1="391.2" x2="52.3" y2="391.2" stroke="#57257f" stroke-width="1.1"/><circle cx="47.5" cy="391.2" r="1.5" fill="#57257f"/><text x="55.8" y="393.9" font-size="8.79" text-anchor="start" fill="#231f20" stroke="#231f20" stroke-width="0.22" textLength="11.9" lengthAdjust="spacingAndGlyphs" >Ctrl</text><line x1="42.7" y1="401.43" x2="52.3" y2="401.43" stroke="#1c5b98" stroke-width="1.1"/><rect x="46.1" y="400.03" width="2.79" height="2.79" fill="#1c5b98"/><text x="55.8" y="404.13" font-size="8.79" text-anchor="start" fill="#231f20" stroke="#231f20" stroke-width="0.22" textLength="27.2" lengthAdjust="spacingAndGlyphs" >PTX (25)</text><line x1="42.7" y1="411.66" x2="52.3" y2="411.66" stroke="#3db549" stroke-width="1.1"/><path d="M47.5 409.8L49.36 413.15L45.64 413.15Z" fill="#3db549"/><text x="55.8" y="414.36" font-size="8.79" text-anchor="start" fill="#231f20" stroke="#231f20" stroke-width="0.22" textLength="22.1" lengthAdjust="spacingAndGlyphs" >aCD47</text><line x1="42.7" y1="421.89" x2="52.3" y2="421.89" stroke="#cf1236" stroke-width="1.1"/><path d="M47.5 423.75L49.36 420.4L45.64 420.4Z" fill="#cf1236"/><text x="55.8" y="424.59" font-size="8.79" text-anchor="start" fill="#231f20" stroke="#231f20" stroke-width="0.22" textLength="24.6" lengthAdjust="spacingAndGlyphs" >Combo</text><path d="M73.8 465.6H71.6V490.4H73.8" fill="none" stroke="#231f20" stroke-width="1"/><path d="M66.7 476.6L67.17 477.55L68.22 477.71L67.46 478.45L67.64 479.49L66.7 479L65.76 479.49L65.94 478.45L65.18 477.71L66.23 477.55Z" fill="#231f20"/><path d="M167.1 452.5H170.3V476H167.1" fill="none" stroke="#231f20" stroke-width="1"/><text x="173.7" y="462.1" font-size="9.27" text-anchor="start" fill="#231f20" stroke="#231f20" stroke-width="0.22" textLength="49.3" lengthAdjust="spacingAndGlyphs" font-style="italic" >Combo vs ctrl</text><text x="173.7" y="471.7" font-size="9.27" text-anchor="start" fill="#231f20" stroke="#231f20" stroke-width="0.22" textLength="34" lengthAdjust="spacingAndGlyphs" font-style="italic" >P=0.0782</text><line x1="299" y1="382.5" x2="299" y2="498.5" stroke="#231f20" stroke-width="1.4"/><line x1="298.4" y1="497.9" x2="469" y2="497.9" stroke="#231f20" stroke-width="1.4"/><line x1="296" y1="490.8" x2="299" y2="490.8" stroke="#231f20" stroke-width="1.4"/><line x1="296" y1="473.3" x2="299" y2="473.3" stroke="#231f20" stroke-width="1.4"/><line x1="296" y1="455.8" x2="299" y2="455.8" stroke="#231f20" stroke-width="1.4"/><line x1="296" y1="438.3" x2="299" y2="438.3" stroke="#231f20" stroke-width="1.4"/><line x1="296" y1="420.8" x2="299" y2="420.8" stroke="#231f20" stroke-width="1.4"/><line x1="296" y1="403.3" x2="299" y2="403.3" stroke="#231f20" stroke-width="1.4"/><line x1="296" y1="385.8" x2="299" y2="385.8" stroke="#231f20" stroke-width="1.4"/><text x="293.6" y="493.7" font-size="8.57" text-anchor="end" fill="#231f20" stroke="#231f20" stroke-width="0.22">0</text><text x="293.6" y="458.7" font-size="8.57" text-anchor="end" fill="#231f20" stroke="#231f20" stroke-width="0.22">0.5</text><text x="293.6" y="423.7" font-size="8.57" text-anchor="end" fill="#231f20" stroke="#231f20" stroke-width="0.22">1.0</text><text x="293.6" y="388.7" font-size="8.57" text-anchor="end" fill="#231f20" stroke="#231f20" stroke-width="0.22">1.5</text><line x1="340.5" y1="497.9" x2="340.5" y2="500.7" stroke="#231f20" stroke-width="1.4"/><text x="340.5" y="510.8" font-size="8.57" text-anchor="middle" fill="#231f20" stroke="#231f20" stroke-width="0.22">7</text><line x1="429.3" y1="497.9" x2="429.3" y2="500.7" stroke="#231f20" stroke-width="1.4"/><text x="429.3" y="510.8" font-size="8.57" text-anchor="middle" fill="#231f20" stroke="#231f20" stroke-width="0.22">12</text><text x="353" y="523.8" font-size="10.23" text-anchor="start" fill="#231f20" stroke="#231f20" stroke-width="0.22" textLength="62.5" lengthAdjust="spacingAndGlyphs" >Engraftment (days)</text><text x="273.8" y="441.8" font-size="9.59" text-anchor="middle" fill="#231f20" stroke="#231f20" stroke-width="0.22" textLength="62.7" lengthAdjust="spacingAndGlyphs" transform="rotate(-90 273.8 441.8)" dominant-baseline="central">Photon flux (×10<tspan font-size="6" dy="-2.8">7</tspan><tspan dy="2.8">)</tspan></text><circle cx="305" cy="392" r="1.83" fill="#57257f"/><text x="310" y="394.9" font-size="9.19" text-anchor="start" fill="#231f20" stroke="#231f20" stroke-width="0.22" textLength="44.5" lengthAdjust="spacingAndGlyphs" >Ctrl + Vehicle</text><rect x="303.29" y="399.19" width="3.42" height="3.42" fill="#1c5b98"/><text x="310" y="403.8" font-size="9.19" text-anchor="start" fill="#231f20" stroke="#231f20" stroke-width="0.22" textLength="70.5" lengthAdjust="spacingAndGlyphs" >Ctrl + TAM depletion</text><path d="M305 409.15L307.15 411.3L305 413.45L302.85 411.3Z" fill="#3db549"/><text x="310" y="414.2" font-size="9.19" text-anchor="start" fill="#231f20" stroke="#231f20" stroke-width="0.22" textLength="57" lengthAdjust="spacingAndGlyphs" >Combo + Vehicle</text><path d="M305 419.52L307.28 423.62L302.72 423.62Z" fill="#cf1236"/><text x="310" y="424.7" font-size="9.19" text-anchor="start" fill="#231f20" stroke="#231f20" stroke-width="0.22" textLength="83" lengthAdjust="spacingAndGlyphs" >Combo + TAM depletion</text><line x1="398" y1="422.5" x2="398" y2="450" stroke="#57257f" stroke-width="1.0"/><line x1="395.9" y1="422.5" x2="400.1" y2="422.5" stroke="#57257f" stroke-width="1"/><line x1="395.9" y1="450" x2="400.1" y2="450" stroke="#57257f" stroke-width="1"/><line x1="389.9" y1="436.3" x2="406.1" y2="436.3" stroke="#57257f" stroke-width="1.1"/><circle cx="398" cy="413" r="1.67" fill="#57257f"/><circle cx="398" cy="424.5" r="1.67" fill="#57257f"/><circle cx="391.3" cy="443.7" r="1.67" fill="#57257f"/><circle cx="395.5" cy="446.3" r="1.67" fill="#57257f"/><circle cx="400" cy="446.3" r="1.67" fill="#57257f"/><circle cx="404.5" cy="443" r="1.67" fill="#57257f"/><line x1="417.5" y1="413.8" x2="417.5" y2="449.3" stroke="#1c5b98" stroke-width="1.0"/><line x1="415.4" y1="413.8" x2="419.6" y2="413.8" stroke="#1c5b98" stroke-width="1"/><line x1="415.4" y1="449.3" x2="419.6" y2="449.3" stroke="#1c5b98" stroke-width="1"/><line x1="409.4" y1="431.3" x2="425.6" y2="431.3" stroke="#1c5b98" stroke-width="1.1"/><rect x="412.87" y="411.37" width="3.26" height="3.26" fill="#1c5b98"/><rect x="421.37" y="412.17" width="3.26" height="3.26" fill="#1c5b98"/><rect x="418.37" y="416.37" width="3.26" height="3.26" fill="#1c5b98"/><rect x="412.87" y="420.87" width="3.26" height="3.26" fill="#1c5b98"/><rect x="412.87" y="432.87" width="3.26" height="3.26" fill="#1c5b98"/><rect x="418.37" y="434.67" width="3.26" height="3.26" fill="#1c5b98"/><rect x="412.87" y="455.37" width="3.26" height="3.26" fill="#1c5b98"/><rect x="418.37" y="454.67" width="3.26" height="3.26" fill="#1c5b98"/><line x1="436.8" y1="468.8" x2="436.8" y2="489.3" stroke="#3db549" stroke-width="1.0"/><line x1="434.7" y1="468.8" x2="438.9" y2="468.8" stroke="#3db549" stroke-width="1"/><line x1="434.7" y1="489.3" x2="438.9" y2="489.3" stroke="#3db549" stroke-width="1"/><line x1="428.7" y1="477.5" x2="444.9" y2="477.5" stroke="#3db549" stroke-width="1.1"/><path d="M436.8 456.94L438.66 458.8L436.8 460.66L434.94 458.8Z" fill="#3db549"/><path d="M431.3 473.14L433.16 475L431.3 476.86L429.44 475Z" fill="#3db549"/><path d="M435 474.44L436.86 476.3L435 478.16L433.14 476.3Z" fill="#3db549"/><path d="M443 474.44L444.86 476.3L443 478.16L441.14 476.3Z" fill="#3db549"/><path d="M431.3 479.94L433.16 481.8L431.3 483.66L429.44 481.8Z" fill="#3db549"/><path d="M438.8 478.94L440.66 480.8L438.8 482.66L436.94 480.8Z" fill="#3db549"/><path d="M442 484.44L443.86 486.3L442 488.16L440.14 486.3Z" fill="#3db549"/><path d="M436.3 486.14L438.16 488L436.3 489.86L434.44 488Z" fill="#3db549"/><line x1="455.5" y1="427.5" x2="455.5" y2="471.3" stroke="#cf1236" stroke-width="1.0"/><line x1="453.4" y1="427.5" x2="457.6" y2="427.5" stroke="#cf1236" stroke-width="1"/><line x1="453.4" y1="471.3" x2="457.6" y2="471.3" stroke="#cf1236" stroke-width="1"/><line x1="447.4" y1="449.3" x2="463.6" y2="449.3" stroke="#cf1236" stroke-width="1.1"/><path d="M455.5 402.43L457.57 406.16L453.43 406.16Z" fill="#cf1236"/><path d="M450 446.73L452.07 450.46L447.93 450.46Z" fill="#cf1236"/><path d="M455.5 446.73L457.57 450.46L453.43 450.46Z" fill="#cf1236"/><path d="M462 446.73L464.07 450.46L459.93 450.46Z" fill="#cf1236"/><path d="M453.8 450.93L455.87 454.66L451.73 454.66Z" fill="#cf1236"/><path d="M455.5 464.23L457.57 467.96L453.43 467.96Z" fill="#cf1236"/><path d="M455.5 472.43L457.57 476.16L453.43 476.16Z" fill="#cf1236"/><circle cx="305.3" cy="489.5" r="1.67" fill="#57257f"/><circle cx="307.5" cy="488.3" r="1.67" fill="#57257f"/><circle cx="309.5" cy="490.6" r="1.67" fill="#57257f"/><circle cx="311.5" cy="487.6" r="1.67" fill="#57257f"/><circle cx="313.6" cy="490.5" r="1.67" fill="#57257f"/><circle cx="315.5" cy="488.2" r="1.67" fill="#57257f"/><circle cx="317.7" cy="489.4" r="1.67" fill="#57257f"/><circle cx="310.5" cy="489.4" r="1.67" fill="#57257f"/><circle cx="312.7" cy="488.8" r="1.67" fill="#57257f"/><circle cx="308.3" cy="490.4" r="1.67" fill="#57257f"/><circle cx="314.9" cy="490.2" r="1.67" fill="#57257f"/><line x1="303.5" y1="489.3" x2="319.5" y2="489.3" stroke="#57257f" stroke-width="1.2"/><line x1="311.5" y1="486.2" x2="311.5" y2="492.2" stroke="#57257f" stroke-width="1.0"/><rect x="323.25" y="487.95" width="3.1" height="3.1" fill="#1c5b98"/><rect x="325.45" y="486.75" width="3.1" height="3.1" fill="#1c5b98"/><rect x="327.45" y="489.05" width="3.1" height="3.1" fill="#1c5b98"/><rect x="329.45" y="486.05" width="3.1" height="3.1" fill="#1c5b98"/><rect x="331.55" y="488.95" width="3.1" height="3.1" fill="#1c5b98"/><rect x="333.45" y="486.65" width="3.1" height="3.1" fill="#1c5b98"/><rect x="335.65" y="487.85" width="3.1" height="3.1" fill="#1c5b98"/><rect x="328.45" y="487.85" width="3.1" height="3.1" fill="#1c5b98"/><rect x="330.65" y="487.25" width="3.1" height="3.1" fill="#1c5b98"/><rect x="326.25" y="488.85" width="3.1" height="3.1" fill="#1c5b98"/><rect x="332.85" y="488.65" width="3.1" height="3.1" fill="#1c5b98"/><line x1="323" y1="489.3" x2="339" y2="489.3" stroke="#1c5b98" stroke-width="1.2"/><line x1="331" y1="486.2" x2="331" y2="492.2" stroke="#1c5b98" stroke-width="1.0"/><path d="M343.7 487.55L345.65 489.5L343.7 491.45L341.75 489.5Z" fill="#3db549"/><path d="M345.9 486.35L347.85 488.3L345.9 490.25L343.94 488.3Z" fill="#3db549"/><path d="M347.9 488.64L349.85 490.6L347.9 492.55L345.94 490.6Z" fill="#3db549"/><path d="M349.9 485.64L351.85 487.6L349.9 489.55L347.94 487.6Z" fill="#3db549"/><path d="M352 488.55L353.95 490.5L352 492.45L350.05 490.5Z" fill="#3db549"/><path d="M353.9 486.25L355.85 488.2L353.9 490.15L351.94 488.2Z" fill="#3db549"/><path d="M356.1 487.44L358.05 489.4L356.1 491.35L354.14 489.4Z" fill="#3db549"/><path d="M348.9 487.44L350.85 489.4L348.9 491.35L346.94 489.4Z" fill="#3db549"/><path d="M351.1 486.85L353.05 488.8L351.1 490.75L349.14 488.8Z" fill="#3db549"/><path d="M346.7 488.44L348.65 490.4L346.7 492.35L344.75 490.4Z" fill="#3db549"/><path d="M353.3 488.25L355.25 490.2L353.3 492.15L351.34 490.2Z" fill="#3db549"/><line x1="341.9" y1="489.3" x2="357.9" y2="489.3" stroke="#3db549" stroke-width="1.2"/><line x1="349.9" y1="486.2" x2="349.9" y2="492.2" stroke="#3db549" stroke-width="1.0"/><path d="M363 487.43L365.07 491.16L360.93 491.16Z" fill="#cf1236"/><path d="M365.2 486.23L367.27 489.96L363.13 489.96Z" fill="#cf1236"/><path d="M367.2 488.53L369.27 492.26L365.13 492.26Z" fill="#cf1236"/><path d="M369.2 485.53L371.27 489.26L367.13 489.26Z" fill="#cf1236"/><path d="M371.3 488.43L373.37 492.16L369.23 492.16Z" fill="#cf1236"/><path d="M373.2 486.13L375.27 489.86L371.13 489.86Z" fill="#cf1236"/><path d="M375.4 487.33L377.47 491.06L373.33 491.06Z" fill="#cf1236"/><path d="M368.2 487.33L370.27 491.06L366.13 491.06Z" fill="#cf1236"/><path d="M370.4 486.73L372.47 490.46L368.33 490.46Z" fill="#cf1236"/><path d="M366 488.33L368.07 492.06L363.93 492.06Z" fill="#cf1236"/><path d="M372.6 488.13L374.67 491.86L370.53 491.86Z" fill="#cf1236"/><line x1="361.2" y1="489.3" x2="377.2" y2="489.3" stroke="#cf1236" stroke-width="1.2"/><line x1="369.2" y1="486.2" x2="369.2" y2="492.2" stroke="#cf1236" stroke-width="1.0"/><path d="M407.5 393.8V388.8H435.5V410.5" fill="none" stroke="#231f20" stroke-width="1"/><path d="M437.6 410.5V388.8H455.5V397" fill="none" stroke="#231f20" stroke-width="1"/><path d="M418.85 383.4L419.32 384.35L420.37 384.51L419.61 385.25L419.79 386.29L418.85 385.8L417.91 386.29L418.09 385.25L417.33 384.51L418.38 384.35Z" fill="#231f20"/><path d="M422 383.4L422.47 384.35L423.52 384.51L422.76 385.25L422.94 386.29L422 385.8L421.06 386.29L421.24 385.25L420.48 384.51L421.53 384.35Z" fill="#231f20"/><path d="M425.15 383.4L425.62 384.35L426.67 384.51L425.91 385.25L426.09 386.29L425.15 385.8L424.21 386.29L424.39 385.25L423.63 384.51L424.68 384.35Z" fill="#231f20"/><path d="M444.75 383.4L445.22 384.35L446.27 384.51L445.51 385.25L445.69 386.29L444.75 385.8L443.81 386.29L443.99 385.25L443.23 384.51L444.28 384.35Z" fill="#231f20"/><path d="M447.85 383.4L448.32 384.35L449.37 384.51L448.61 385.25L448.79 386.29L447.85 385.8L446.91 386.29L447.09 385.25L446.33 384.51L447.38 384.35Z" fill="#231f20"/><line x1="397.5" y1="402" x2="418.8" y2="402" stroke="#231f20" stroke-width="1.0"/><line x1="458" y1="19.8" x2="458" y2="51.3" stroke="#2a2a2a" stroke-width="1.5"/><line x1="457.4" y1="50.5" x2="513.1" y2="50.5" stroke="#2a2a2a" stroke-width="1.5"/><g fill="none" stroke="#57257f" stroke-width="1.1" stroke-linejoin="round"><polyline points="462.2,50.5 471.8,50.3 481.5,49.6 490.9,34.7 500.3,31.1 509.9,26.3"/><polyline points="462.2,50.5 471.8,50.4 481.5,49.8 490.9,47.2 500.3,31.7 509.9,20.4"/><polyline points="462.2,50.5 471.8,50.4 481.5,49.8 490.9,48 500.3,43.2 509.9,40.8"/><polyline points="462.2,50.5 471.8,50.4 481.5,49.8 490.9,47.5 500.3,44.3 509.9,42.5"/><polyline points="462.2,50.5 471.8,50.4 481.5,49.8 490.9,48.5 500.3,45.5 509.9,44"/><polyline points="462.2,50.5 471.8,50.4 481.5,49.8 490.9,49 500.3,46.6 509.9,45.3"/><polyline points="462.2,50.5 471.8,50.4 481.5,49.8 490.9,48.2 500.3,47.5 509.9,46.5"/><polyline points="462.2,50.5 471.8,50.4 481.5,49.8 490.9,49.5 500.3,48.8 509.9,47.8"/></g><line x1="458" y1="55.6" x2="458" y2="87.4" stroke="#2a2a2a" stroke-width="1.5"/><line x1="457.4" y1="86.6" x2="513.1" y2="86.6" stroke="#2a2a2a" stroke-width="1.5"/><g fill="none" stroke="#1c5b98" stroke-width="1.1" stroke-linejoin="round"><polyline points="462.2,86.6 471.8,86.5 481.5,85.2 490.9,78.5 500.3,70.5 509.9,60.3"/><polyline points="462.2,86.6 471.8,86.5 481.5,85.5 490.9,83 500.3,74.7 509.9,60.3"/><polyline points="462.2,86.6 471.8,86.5 481.5,85.5 490.9,84 500.3,81 509.9,77.6"/><polyline points="462.2,86.6 471.8,86.5 481.5,85.5 490.9,84.8 500.3,82.5 509.9,79.5"/><polyline points="462.2,86.6 471.8,86.5 481.5,85.5 490.9,85.3 500.3,83.9 509.9,81.5"/><polyline points="462.2,86.6 471.8,86.5 481.5,85.5 490.9,85.8 500.3,84.8 509.9,83.3"/><polyline points="462.2,86.6 471.8,86.5 481.5,85.5 490.9,86 500.3,85.5 509.9,84.8"/></g><line x1="458" y1="91.2" x2="458" y2="122.7" stroke="#2a2a2a" stroke-width="1.5"/><line x1="457.4" y1="121.9" x2="513.1" y2="121.9" stroke="#2a2a2a" stroke-width="1.5"/><g fill="none" stroke="#3db549" stroke-width="1.1" stroke-linejoin="round"><polyline points="462.2,121.9 471.8,121.7 481.5,115.6 490.9,113.8 500.3,116.2 509.9,93.6"/><polyline points="462.2,121.9 471.8,121.7 481.5,117.4 490.9,115 500.3,116.8 509.9,109.9"/><polyline points="462.2,121.9 471.8,121.8 481.5,119.5 490.9,117.5 500.3,118.5 509.9,117.6"/><polyline points="462.2,121.9 471.8,121.8 481.5,120.3 490.9,118.6 500.3,119.2 509.9,118.2"/><polyline points="462.2,121.9 471.8,121.8 481.5,121 490.9,119.8 500.3,119.9 509.9,118.8"/><polyline points="462.2,121.9 471.8,121.8 481.5,121.3 490.9,120.5 500.3,120.5 509.9,119.5"/><polyline points="462.2,121.9 471.8,121.8 481.5,121.5 490.9,121 500.3,121 509.9,120.2"/><polyline points="462.2,121.9 471.8,121.8 481.5,121.6 490.9,121.3 500.3,121.3 509.9,121"/></g><path d="M462 157.3L481 156.6L490.9 155.5L500.3 155.9L509.9 154.8V157.3Z" fill="#cf1236"/><line x1="458" y1="126.8" x2="458" y2="158.1" stroke="#2a2a2a" stroke-width="1.5"/><line x1="457.4" y1="157.3" x2="513.1" y2="157.3" stroke="#2a2a2a" stroke-width="1.5"/><g fill="none" stroke="#cf1236" stroke-width="1.0" stroke-linejoin="round"><polyline points="462.2,157.3 471.8,157 481.5,156.4 490.9,155.4 500.3,155.6 509.9,154.8"/><polyline points="462.2,157.3 471.8,157.2 481.5,156.8 490.9,156.2 500.3,156 509.9,155.5"/></g><line x1="458" y1="202" x2="458" y2="233.3" stroke="#2a2a2a" stroke-width="1.5"/><line x1="457.4" y1="232.5" x2="512" y2="232.5" stroke="#2a2a2a" stroke-width="1.5"/><g fill="none" stroke="#57257f" stroke-width="1.1" stroke-linejoin="round"><polyline points="461.6,232.5 474.1,216.1 486.6,211.3"/><polyline points="461.6,232.5 474.1,220.2 486.6,224 500.9,207.5"/><polyline points="461.6,232.5 474.1,220.8 486.6,224.6 500.9,208.3"/><polyline points="461.6,232.5 474.1,221.4 486.6,221.4 500.9,217.3"/><polyline points="461.6,232.5 474.1,225.6 486.6,222.6 500.9,220.2"/><polyline points="461.6,232.5 474.1,228.6 486.6,226.8 500.9,225.6"/><polyline points="461.6,232.5 474.1,230.5 486.6,232.2 500.9,228.6"/><polyline points="461.6,232.5 474.1,231.5 486.6,229.8 500.9,232"/></g><line x1="458" y1="237.2" x2="458" y2="269.2" stroke="#2a2a2a" stroke-width="1.5"/><line x1="457.4" y1="268.4" x2="512" y2="268.4" stroke="#2a2a2a" stroke-width="1.5"/><g fill="none" stroke="#1c5b98" stroke-width="1.1" stroke-linejoin="round"><polyline points="461.6,268.4 474.1,255.7 486.6,246.7 500.9,243.7"/><polyline points="461.6,268.4 474.1,261.6 486.6,252.1 500.9,258.6"/><polyline points="461.6,268.4 474.1,261.8 486.6,266.4 500.9,250.3"/><polyline points="461.6,268.4 474.1,264.6 486.6,261.6 500.9,255.7"/><polyline points="461.6,268.4 474.1,263.8 486.6,262.2 500.9,265.2"/><polyline points="461.6,268.4 474.1,266.3 486.6,266.3 500.9,267.6"/><polyline points="461.6,268.4 474.1,267.3 486.6,267.3 500.9,268.4"/></g><line x1="458" y1="274.2" x2="458" y2="304.8" stroke="#2a2a2a" stroke-width="1.5"/><line x1="457.4" y1="304" x2="512" y2="304" stroke="#2a2a2a" stroke-width="1.5"/><g fill="none" stroke="#3db549" stroke-width="1.1" stroke-linejoin="round"><polyline points="461.6,304 474.1,289.7 486.6,283.7 500.9,280.5"/><polyline points="461.6,304 474.1,294.4 486.6,290.3 500.9,299.8"/><polyline points="461.6,304 474.1,294.4 486.6,295 500.9,293.2"/><polyline points="461.6,304 474.1,295 486.6,296.8 500.9,298"/><polyline points="461.6,304 474.1,296.2 486.6,297.5 500.9,295"/><polyline points="461.6,304 474.1,302.2 486.6,299.8 500.9,292"/><polyline points="461.6,304 474.1,302.8 486.6,302.2 500.9,303.4"/><polyline points="461.6,304 474.1,303.4 486.6,303.6 500.9,304"/></g><path d="M461.6 339.6L474.1 336.4L486.6 337.6L500.9 336.2V339.6Z" fill="#cf1236"/><line x1="458" y1="309.2" x2="458" y2="340.4" stroke="#2a2a2a" stroke-width="1.5"/><line x1="457.4" y1="339.6" x2="512" y2="339.6" stroke="#2a2a2a" stroke-width="1.5"/><g fill="none" stroke="#cf1236" stroke-width="1.1" stroke-linejoin="round"><polyline points="461.6,339.6 474.1,326.5 486.6,317.9 500.9,329.4"/><polyline points="461.6,339.6 474.1,333.6 486.6,332.4 500.9,316.9"/><polyline points="461.6,339.6 474.1,334.3 486.6,333.2 500.9,338"/></g></svg></body></html>
